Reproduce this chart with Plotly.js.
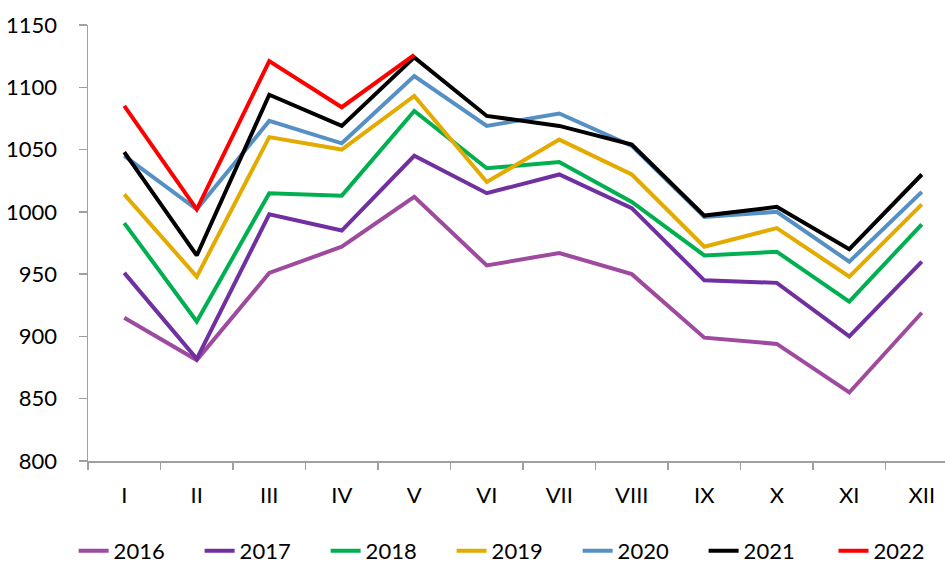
<!DOCTYPE html>
<html>
<head>
<meta charset="utf-8">
<script src="https://cdn.plot.ly/plotly-3.0.1.min.js"></script>
<style>html,body{margin:0;padding:0;background:#fff;}#chart{width:945px;height:563px;}</style>
</head>
<body>
<div id="chart"></div>
<script>
const months = ["I","II","III","IV","V","VI","VII","VIII","IX","X","XI","XII"];
const years = ["2016","2017","2018","2019","2020","2021","2022"];
const v2016 = [915, 881, 951, 972, 1012, 957, 967, 950, 899, 894, 855, 919];
const v2017 = [951, 882, 998, 985, 1045, 1015, 1030, 1003, 945, 943, 900, 960];
const v2018 = [991, 912, 1015, 1013, 1081, 1035, 1040, 1008, 965, 968, 928, 990];
const v2019 = [1014, 948, 1060, 1050, 1093, 1024, 1058, 1030, 972, 987, 948, 1006];
const v2020 = [1045, 1002, 1073, 1055, 1109, 1069, 1079, 1053, 996, 1000, 960, 1016];
const v2021 = [1048, 965, 1094, 1069, 1124, 1077, 1069, 1054, 997, 1004, 970, 1030];
const v2022 = [1085, 1002, 1121, 1084, 1126];
const colors = ["#9E4A9E", "#7030A0", "#00B050", "#E3AA00", "#5590C5", "#000000", "#FF0000"];
const series = [v2016, v2017, v2018, v2019, v2020, v2021, v2022];

const traces = series.map((vals, i) => ({
  type: "scatter",
  mode: "lines",
  name: years[i],
  x: months.slice(0, vals.length),
  y: vals,
  line: {color: colors[i], width: 4},
  legend: i === series.length - 1 ? "legend2" : "legend",
  hoverinfo: "x+y+name"
}));

const font = {family: "Lato, 'Open Sans', sans-serif", size: 22, color: "#000"};
const legendBase = {
  orientation: "h",
  xref: "container",
  yref: "container",
  xanchor: "left",
  y: 0.0213,
  yanchor: "middle",
  font: font,
  bgcolor: "rgba(0,0,0,0)",
  traceorder: "normal"
};
const layout = {
  width: 945,
  height: 563,
  margin: {l: 88, r: 0, t: 25, b: 102},
  paper_bgcolor: "#fff",
  plot_bgcolor: "#fff",
  font: font,
  showlegend: true,
  xaxis: {
    type: "category",
    categoryorder: "array",
    categoryarray: months,
    range: [-0.5, 11.32],
    showgrid: false,
    zeroline: false,
    showline: true,
    linecolor: "#A0A0A0",
    linewidth: 1.5,
    ticks: "outside",
    tickson: "boundaries",
    ticklen: 7,
    tickcolor: "#A0A0A0",
    tickwidth: 1.5,
    ticklabelstandoff: 14,
    tickfont: font,
    fixedrange: true
  },
  yaxis: {
    range: [800, 1150],
    tickvals: [800, 850, 900, 950, 1000, 1050, 1100, 1150],
    showgrid: false,
    zeroline: false,
    showline: true,
    linecolor: "#A0A0A0",
    linewidth: 1.5,
    ticks: "outside",
    ticklen: 8,
    tickcolor: "#A0A0A0",
    tickwidth: 1.5,
    ticklabelstandoff: 17,
    tickfont: font,
    fixedrange: true
  },
  legend: Object.assign({}, legendBase, {x: 0.0779, entrywidth: 81}),
  legend2: Object.assign({}, legendBase, {x: 0.882})
};

Plotly.newPlot("chart", traces, layout, {displayModeBar: false, staticPlot: true});
</script>
</body>
</html>
